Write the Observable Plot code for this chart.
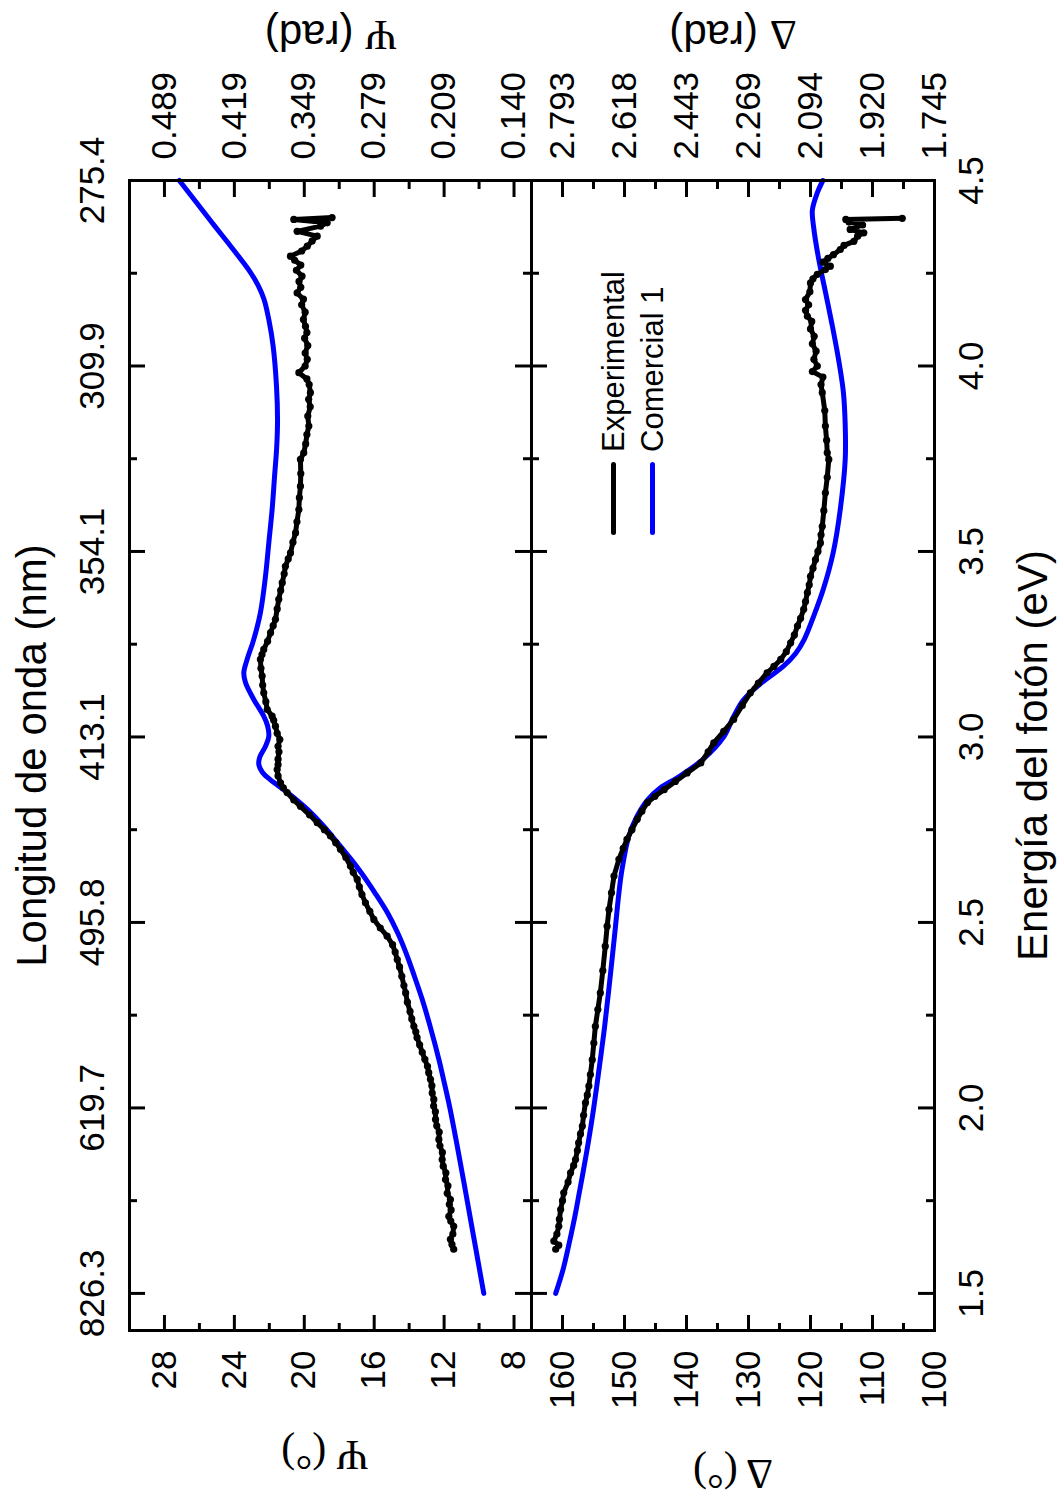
<!DOCTYPE html>
<html><head><meta charset="utf-8">
<script src="https://cdn.jsdelivr.net/npm/d3@7"></script>
<script src="https://cdn.jsdelivr.net/npm/@observablehq/plot@0.6"></script>
<style>
html,body{margin:0;padding:0;background:#fff;width:1060px;height:1501px;overflow:hidden;}
#fig{position:absolute;left:0;top:0;width:1501px;height:1060px;transform-origin:0 0;transform:translate(0px,1501px) rotate(-90deg);background:#fff;font-family:'Liberation Sans',Arial,sans-serif;}
#fig svg{position:absolute;left:0;top:0;overflow:visible;background:transparent;}
.lg{position:absolute;height:40px;display:flex;align-items:center;}
.lg .sw{display:inline-block;width:73px;height:5px;border-radius:3px;}
.lg .tx{margin-left:10px;font-size:31px;line-height:1;color:#000;white-space:nowrap;}
</style></head><body><div id="fig"></div><script>
// ---------------- data ----------------
const energyMajor = [1.5, 2.0, 2.5, 3.0, 3.5, 4.0, 4.5];
const energyMinor = [1.75, 2.25, 2.75, 3.25, 3.75, 4.25];
const wavelengthLabels = ["826.3", "619.7", "495.8", "413.1", "354.1", "309.9", "275.4"];
const psiMajor = [8, 12, 16, 20, 24, 28];
const psiMinor = [10, 14, 18, 22, 26];
const psiRadLabels = ["0.140", "0.209", "0.279", "0.349", "0.419", "0.489"];
const deltaMajor = [100, 110, 120, 130, 140, 150, 160];
const deltaMinor = [105, 115, 125, 135, 145, 155];
const deltaRadLabels = ["1.745", "1.920", "2.094", "2.269", "2.443", "2.618", "2.793"];
const seriesNames = ["Experimental", "Comercial 1"];
const seriesColors = ["#000000", "#0000ff"];
const titles = {
  xTop: "Longitud de onda (nm)", xBottom: "Energía del fotón (eV)",
  psiDeg: "Ψ (°)", psiRad: "Ψ (rad)", deltaDeg: "Δ (°)", deltaRad: "Δ (rad)"
};

// Psi (deg) vs photon energy (eV)
const psiExperimental = [
  [1.619,11.45],[1.632,11.55],[1.646,11.64],[1.66,11.5],[1.681,11.45],[1.695,11.62],[1.708,11.73],[1.725,11.6],
  [1.74,11.7],[1.753,11.64],[1.77,11.82],[1.79,11.78],[1.807,11.92],[1.825,11.9],[1.843,12.05],[1.861,12.11],
  [1.88,12.1],[1.898,12.24],[1.915,12.3],[1.935,12.28],[1.952,12.42],[1.969,12.49],[1.99,12.5],[2.005,12.6],
  [2.023,12.59],[2.04,12.68],[2.06,12.7],[2.077,12.78],[2.095,12.88],[2.112,12.95],[2.131,13.1],[2.15,13.25],
  [2.17,13.4],[2.19,13.55],[2.205,13.62],[2.22,13.73],[2.24,13.85],[2.26,13.95],[2.285,14.1],[2.31,14.2],
  [2.33,14.3],[2.355,14.42],[2.38,14.55],[2.40,14.68],[2.42,14.8],[2.44,14.95],[2.463,15.26],[2.485,15.65],
  [2.508,16.02],[2.53,16.25],[2.553,16.5],[2.575,16.7],[2.596,16.85],[2.616,16.97],[2.635,17.2],[2.652,17.36],
  [2.675,17.62],[2.697,17.93],[2.715,18.2],[2.733,18.5],[2.75,18.85],[2.769,19.26],[2.79,19.7],[2.813,20.22],
  [2.83,20.6],[2.85,20.98],[2.863,21.2],[2.876,21.36],[2.895,21.5],[2.912,21.55],[2.925,21.5],[2.94,21.5],
  [2.96,21.45],[2.975,21.5],[2.993,21.4],[3.01,21.55],[3.029,21.65],[3.045,21.75],[3.056,21.84],[3.074,22.12],
  [3.095,22.2],[3.119,22.32],[3.14,22.38],[3.164,22.41],[3.185,22.48],[3.209,22.51],[3.222,22.42],[3.236,22.32],
  [3.258,22.1],[3.281,21.93],[3.3,21.78],[3.317,21.65],[3.345,21.55],[3.371,21.46],[3.395,21.35],[3.416,21.26],
  [3.44,21.15],[3.46,21.08],[3.48,20.92],[3.496,20.79],[3.525,20.65],[3.55,20.5],[3.58,20.42],[3.613,20.31],
  [3.645,20.28],[3.676,20.22],[3.71,20.2],[3.748,20.22],[3.766,20.03],[3.79,19.92],[3.815,19.85],[3.838,19.74],
  [3.865,19.8],[3.89,19.66],[3.91,19.75],[3.928,19.65],[3.95,19.72],[3.965,19.85],[3.982,20.31],[4.0,19.95],
  [4.018,19.83],[4.035,19.95],[4.055,19.8],[4.075,19.98],[4.09,19.85],[4.107,19.93],[4.125,20.05],[4.145,19.95],
  [4.165,20.15],[4.18,20.05],[4.197,20.41],[4.212,20.2],[4.228,20.3],[4.242,20.13],[4.258,20.45],[4.272,20.2],
  [4.285,20.55],[4.296,20.79],[4.31,20.15],[4.323,19.83],[4.337,19.55],[4.35,19.26],[4.363,20.41],[4.377,19.07],
  [4.386,18.69],[4.395,20.6],[4.40,18.41]
];
const psiModel = [
  [1.50,9.73],[1.60,10.11],[1.70,10.49],[1.80,10.87],[1.90,11.26],[2.00,11.67],[2.07,12.0],[2.131,12.3],
  [2.22,12.8],[2.292,13.25],[2.355,13.7],[2.418,14.18],[2.472,14.66],[2.526,15.24],[2.58,15.96],[2.634,16.74],
  [2.67,17.32],[2.715,18.1],[2.76,18.9],[2.805,19.82],[2.85,20.95],[2.885,21.95],[2.905,22.4],[2.925,22.6],
  [2.945,22.55],[2.975,22.22],[3.002,22.03],[3.03,22.1],[3.056,22.32],[3.101,22.89],[3.146,23.36],[3.173,23.46],
  [3.209,23.27],[3.263,22.89],[3.335,22.51],[3.433,22.22],[3.523,22.03],[3.613,21.84],[3.703,21.7],[3.78,21.58],
  [3.856,21.53],[3.946,21.59],[4.053,21.78],[4.125,22.03],[4.179,22.3],[4.215,22.62],[4.25,23.05],[4.287,23.62],
  [4.33,24.33],[4.377,25.12],[4.422,25.86],[4.458,26.46],[4.50,27.15]
];
// Delta (deg) vs photon energy (eV)
const deltaExperimental = [
  [1.619,161.1],[1.63,160.6],[1.641,161.4],[1.66,160.9],[1.681,160.6],[1.70,160.5],[1.726,160.3],[1.75,160.0],
  [1.771,159.8],[1.80,159.1],[1.825,158.7],[1.845,158.2],[1.861,157.9],[1.885,157.6],[1.906,157.4],[1.93,157.1],
  [1.951,156.8],[1.98,156.6],[2.014,156.3],[2.035,156.0],[2.059,155.75],[2.09,155.5],[2.13,155.2],[2.175,154.95],
  [2.22,154.7],[2.265,154.3],[2.31,153.9],[2.37,153.5],[2.436,153.1],[2.49,152.8],[2.535,152.5],[2.58,152.1],
  [2.625,151.7],[2.67,150.9],[2.70,150.2],[2.724,149.6],[2.75,148.8],[2.778,147.95],[2.80,147.2],[2.823,146.3],
  [2.84,145.1],[2.858,143.6],[2.88,141.8],[2.903,139.9],[2.93,137.7],[2.96,136.5],[2.984,135.6],[3.015,134.0],
  [3.047,132.4],[3.085,131.0],[3.119,129.7],[3.145,128.4],[3.173,127.0],[3.19,125.9],[3.209,124.8],[3.23,123.9],
  [3.254,123.2],[3.275,122.6],[3.299,122.1],[3.32,121.6],[3.344,121.1],[3.365,120.8],[3.389,120.5],[3.41,120.2],
  [3.433,120.0],[3.455,119.6],[3.478,119.2],[3.50,118.8],[3.523,118.4],[3.545,118.3],[3.568,118.1],[3.61,117.85],
  [3.658,117.6],[3.70,117.3],[3.748,117.05],[3.766,117.3],[3.80,117.4],[3.838,117.6],[3.88,117.7],[3.928,118.1],
  [3.95,118.3],[3.97,118.0],[3.985,119.7],[4.0,118.9],[4.018,119.45],[4.04,119.1],[4.06,119.7],[4.08,119.4],
  [4.10,120.0],[4.12,119.8],[4.134,120.5],[4.15,120.8],[4.165,120.3],[4.179,120.8],[4.20,120.1],[4.224,120.0],
  [4.235,119.6],[4.247,118.9],[4.26,117.6],[4.269,116.8],[4.28,118.0],[4.29,117.2],[4.30,116.3],[4.314,115.2],
  [4.325,114.6],[4.336,113.0],[4.35,112.4],[4.359,111.4],[4.368,113.6],[4.38,111.6],[4.388,113.8],[4.395,114.3],
  [4.398,105.2]
];
const deltaModel = [
  [1.50,161.1],[1.565,159.9],[1.637,158.9],[1.708,158.0],[1.771,157.3],[1.816,156.8],[1.906,155.85],[1.996,155.0],
  [2.13,153.9],[2.22,153.2],[2.355,152.3],[2.49,151.45],[2.58,150.9],[2.643,150.4],[2.733,149.3],[2.787,147.95],
  [2.83,146.3],[2.863,144.2],[2.89,141.5],[2.94,137.3],[3.0,134.0],[3.055,132.4],[3.1,130.8],[3.147,127.8],
  [3.19,124.4],[3.225,122.4],[3.263,121.0],[3.325,119.5],[3.4,117.9],[3.5,116.3],[3.613,115.2],[3.748,114.4],
  [3.84,114.4],[3.93,114.7],[4.02,115.5],[4.11,116.5],[4.20,117.6],[4.29,118.7],[4.375,119.5],[4.42,119.7],
  [4.467,118.9],[4.50,118.0]
];

// ---------------- chart (drawn in landscape, then rotated) ----------------
const W = 1501, H = 1060;
const ML = 170, MR = 181;
const PW = W - ML - MR;
const wlMap = new Map(energyMajor.map((e, i) => [e, wavelengthLabels[i]]));
const psiRadMap = new Map(psiMajor.map((d, i) => [d, psiRadLabels[i]]));
const deltaRadMap = new Map(deltaMajor.map((d, i) => [d, deltaRadLabels[i]]));
const sans = "'Liberation Sans', Arial, sans-serif";

const common = {
  width: W, height: H, marginLeft: ML, marginRight: MR,
  x: {domain: [1.4, 4.5], label: null},
  style: {fontFamily: sans, fontSize: "35px", background: "transparent", overflow: "visible", color: "#000"}
};

function frameTicks(ph, yMaj, yMin) {
  const L = 16, S = 8, sw = 3;
  return [
    Plot.ruleX(energyMajor, {insetBottom: ph - L, strokeWidth: sw}),
    Plot.ruleX(energyMinor, {insetBottom: ph - S, strokeWidth: sw}),
    Plot.ruleX(energyMajor, {insetTop: ph - L, strokeWidth: sw}),
    Plot.ruleX(energyMinor, {insetTop: ph - S, strokeWidth: sw}),
    Plot.ruleY(yMaj, {insetRight: PW - L, strokeWidth: sw}),
    Plot.ruleY(yMin, {insetRight: PW - S, strokeWidth: sw}),
    Plot.ruleY(yMaj, {insetLeft: PW - L, strokeWidth: sw}),
    Plot.ruleY(yMin, {insetLeft: PW - S, strokeWidth: sw})
  ];
}
function curves(model, exp) {
  return [
    Plot.line(model, {x: d => d[0], y: d => d[1], stroke: seriesColors[1], strokeWidth: 5, curve: "catmull-rom", strokeLinecap: "round"}),
    Plot.line(exp, {x: d => d[0], y: d => d[1], stroke: seriesColors[0], strokeWidth: 5, strokeLinejoin: "round", strokeLinecap: "round"}),
    Plot.dot(exp, {x: d => d[0], y: d => d[1], r: 3.6, fill: seriesColors[0], stroke: "none"})
  ];
}

const psiTop = 129, divider = 531, deltaBottom = 934;

const psiPlot = Plot.plot({
  ...common,
  marginTop: psiTop, marginBottom: H - divider,
  y: {domain: [7, 30], label: null},
  marks: [
    ...frameTicks(divider - psiTop, psiMajor, psiMinor),
    ...curves(psiModel, psiExperimental),
    Plot.frame({strokeWidth: 3}),
    Plot.axisX({anchor: "top", ticks: energyMajor, tickSize: 0, tickPadding: 26, tickFormat: d => wlMap.get(d), label: null}),
    Plot.axisY({anchor: "left", ticks: psiMajor, tickSize: 0, tickPadding: 20, tickFormat: d => String(d), label: null}),
    Plot.axisY({anchor: "right", ticks: psiMajor, tickSize: 0, tickPadding: 21, tickFormat: d => psiRadMap.get(d), label: null}),
    Plot.text([titles.xTop], {text: d => d, frameAnchor: "top", dy: -84, lineAnchor: "bottom", textAnchor: "middle", fontSize: 42}),
    Plot.text([titles.psiDeg], {text: d => d, frameAnchor: "left", dx: -124, dy: -6, rotate: -90, textAnchor: "middle", lineAnchor: "middle", fontSize: 42}),
    Plot.text([titles.psiRad], {text: d => d, frameAnchor: "right", dx: 146, rotate: -90, textAnchor: "middle", lineAnchor: "middle", fontSize: 42})
  ]
});

const deltaPlot = Plot.plot({
  ...common,
  marginTop: divider, marginBottom: H - deltaBottom,
  y: {domain: [100, 165], label: null},
  marks: [
    ...frameTicks(deltaBottom - divider, deltaMajor, deltaMinor),
    ...curves(deltaModel, deltaExperimental),
    Plot.frame({strokeWidth: 3}),
    Plot.axisX({anchor: "bottom", ticks: energyMajor, tickSize: 0, tickPadding: 24, tickFormat: d3.format(".1f"), label: null}),
    Plot.axisY({anchor: "left", ticks: deltaMajor, tickSize: 0, tickPadding: 20, tickFormat: d => String(d), label: null}),
    Plot.axisY({anchor: "right", ticks: deltaMajor, tickSize: 0, tickPadding: 21, tickFormat: d => deltaRadMap.get(d), label: null}),
    Plot.text([titles.xBottom], {text: d => d, frameAnchor: "bottom", dy: 112, lineAnchor: "bottom", textAnchor: "middle", fontSize: 42}),
    Plot.text([titles.deltaDeg], {text: d => d, frameAnchor: "left", dx: -143, rotate: -90, textAnchor: "middle", lineAnchor: "middle", fontSize: 42}),
    Plot.text([titles.deltaRad], {text: d => d, frameAnchor: "right", dx: 146, rotate: -90, textAnchor: "middle", lineAnchor: "middle", fontSize: 42})
  ]
});

const fig = document.getElementById("fig");
fig.append(psiPlot, deltaPlot);

// Greek symbols in a serif face (as in the original figure)
const NS = "http://www.w3.org/2000/svg";
for (const t of fig.querySelectorAll("text")) {
  const s = t.textContent;
  if (/^[ΨΔ] \(/.test(s)) {
    t.textContent = "";
    const a = document.createElementNS(NS, "tspan");
    a.setAttribute("font-family", "'Liberation Serif', serif");
    const degree = s.includes("°");
    a.textContent = degree ? s : s[0];
    t.append(a);
    if (!degree) {
      const b = document.createElementNS(NS, "tspan");
      b.textContent = s.slice(1);
      t.append(b);
    }
  }
}

// legend (inside the Delta panel, upper-left of landscape chart)
const legendLeft = 966, legendCenters = [613, 652];
seriesNames.forEach((name, i) => {
  const row = document.createElement("div");
  row.className = "lg";
  row.style.left = legendLeft + "px";
  row.style.top = (legendCenters[i] - 20) + "px";
  const sw = document.createElement("span");
  sw.className = "sw";
  sw.style.background = seriesColors[i];
  const tx = document.createElement("span");
  tx.className = "tx";
  tx.textContent = name;
  row.append(sw, tx);
  fig.append(row);
});
</script></body></html>
